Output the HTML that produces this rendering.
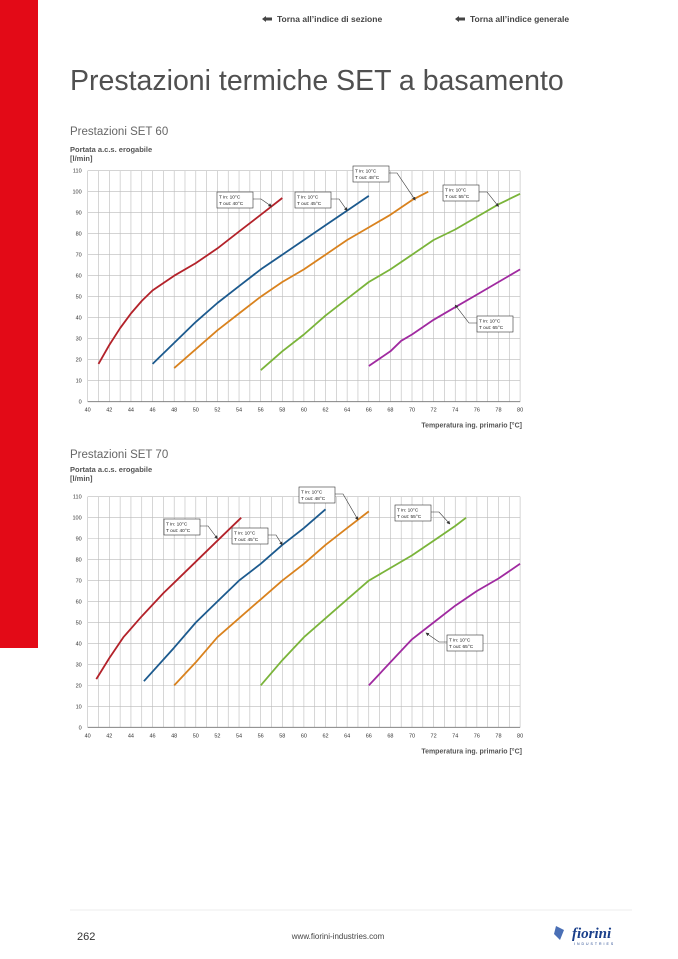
<!DOCTYPE html>
<html><head><meta charset="utf-8"><style>
html,body{margin:0;padding:0;background:#fff;}
body{width:678px;height:959px;position:relative;overflow:hidden;font-family:"Liberation Sans",sans-serif;}
</style></head><body>
<div style="position:absolute;left:0;top:0;width:38px;height:648px;background:#e30a17"></div>
<svg id="s" width="678" height="959" style="position:absolute;left:0;top:0" xmlns="http://www.w3.org/2000/svg" font-family="Liberation Sans, sans-serif">
<defs><marker id="ah" markerWidth="6" markerHeight="6" refX="5" refY="3" orient="auto"><path d="M0,0 L6,3 L0,6z" fill="#333"/></marker></defs>
<text x="277" y="22" font-size="8.5" font-weight="bold" fill="#444">Torna all’indice di sezione</text>
<text x="470" y="22" font-size="8.5" font-weight="bold" fill="#444">Torna all’indice generale</text>
<path d="M262,19 l4,-3 v1.5 h6 v3 h-6 v1.5z" fill="#444"/>
<path d="M455,19 l4,-3 v1.5 h6 v3 h-6 v1.5z" fill="#444"/>
<text x="70" y="90" font-size="28.5" fill="#505050">Prestazioni termiche SET a basamento</text>
<text x="70" y="135" font-size="11.5" fill="#666">Prestazioni SET 60</text>
<text x="70" y="458" font-size="11.5" fill="#666">Prestazioni SET 70</text>
<line x1="70" y1="910" x2="632" y2="910" stroke="#eee" stroke-width="1"/>
<text x="77" y="940" font-size="11" fill="#333">262</text>
<text x="338" y="939" font-size="8" fill="#444" text-anchor="middle">www.fiorini-industries.com</text>
<text x="572" y="938" font-size="15" font-weight="bold" font-style="italic" fill="#1a3f8a" font-family="Liberation Serif, serif">fiorini</text>
<text x="574" y="945" font-size="3.5" fill="#1a3f8a" letter-spacing="2">INDUSTRIES</text>
<path d="M556,926 l8,4 l-4,10 l-6,-6z" fill="#4a6fb5"/>
<g id="c"></g>
</svg>
<script>
var g=document.getElementById('c'),h='';
function X(t){return 87.7+(t-40)*10.81;}
function chart(y0,y110,top,curves,boxes){
 var Y=function(v){return y0-(y0-y110)*v/110;};
 h+='<text x="70" y="'+(top)+'" font-size="7.5" font-weight="bold" fill="#555">Portata a.c.s. erogabile</text>';
 h+='<text x="70" y="'+(top+9)+'" font-size="7.5" font-weight="bold" fill="#555">[l/min]</text>';
 for(var t=40;t<=80;t++){h+='<line x1="'+X(t)+'" y1="'+Y(110)+'" x2="'+X(t)+'" y2="'+Y(0)+'" stroke="#bbb" stroke-width="0.6"/>';}
 for(var v=0;v<=110;v+=10){h+='<line x1="'+X(40)+'" y1="'+Y(v)+'" x2="'+X(80)+'" y2="'+Y(v)+'" stroke="#bbb" stroke-width="0.6"/>';
  h+='<text x="'+(X(40)-6)+'" y="'+(Y(v)+2)+'" font-size="5.5" fill="#333" text-anchor="end">'+v+'</text>';}
 for(var t=40;t<=80;t+=2){h+='<text x="'+X(t)+'" y="'+(Y(0)+10)+'" font-size="5.5" fill="#333" text-anchor="middle">'+t+'</text>';}
 h+='<line x1="'+X(40)+'" y1="'+Y(0)+'" x2="'+X(80)+'" y2="'+Y(0)+'" stroke="#777" stroke-width="0.8"/>';
 h+='<text x="522" y="'+(Y(0)+26)+'" font-size="7" font-weight="bold" fill="#555" text-anchor="end">Temperatura ing. primario [°C]</text>';
 var cols=['#b3222a','#1c5a8e','#d9821e','#7ab43a','#a02aa0'];
 curves.forEach(function(c,i){var d=c.map(function(p,j){return (j?'L':'M')+X(p[0]).toFixed(1)+','+Y(p[1]).toFixed(1);}).join('');
  h+='<path d="'+d+'" fill="none" stroke="'+cols[i]+'" stroke-width="1.8" stroke-linejoin="round"/>';});
 boxes.forEach(function(b){var x=b[0],y=b[1],tx=X(b[2]),ty=Y(b[3]);
  var sx=b[4]?x:x+36, sy=y+7;
  h+='<polyline points="'+sx+','+sy+' '+(b[4]?sx-8:sx+8)+','+sy+' '+tx+','+ty+'" fill="none" stroke="#333" stroke-width="0.6" marker-end="url(#ah)"/>';
  h+='<rect x="'+x+'" y="'+y+'" width="36" height="16" fill="#fff" stroke="#333" stroke-width="0.6"/>';
  h+='<text x="'+(x+2)+'" y="'+(y+6.5)+'" font-size="4.8" fill="#222">T in: 10°C</text>';
  h+='<text x="'+(x+2)+'" y="'+(y+13)+'" font-size="4.8" fill="#222">'+b[5]+'</text>';});
}
chart(401.7,170.7,152,[
 [[41,18],[42,27],[43,35],[44,42],[45,48],[46,53],[48,60],[50,66],[52,73],[54,81],[56,89],[58,97]],
 [[46,18],[48,28],[50,38],[52,47],[54,55],[56,63],[58,70],[60,77],[62,84],[64,91],[66,98]],
 [[48,16],[50,25],[52,34],[54,42],[56,50],[58,57],[60,63],[62,70],[64,77],[66,83],[68,89],[70,96],[71.5,100]],
 [[56,15],[58,24],[60,32],[62,41],[64,49],[66,57],[68,63],[70,70],[72,77],[74,82],[76,88],[78,94],[80,99]],
 [[66,17],[68,24],[69,29],[70,32],[72,39],[74,45],[76,51],[78,57],[80,63]]
],[[217,192,57,93,0,'T out: 40°C'],[295,192,64,91,0,'T out: 45°C'],[353,166,70.3,96,0,'T out: 48°C'],[443,185,78,93,0,'T out: 55°C'],[477,316,74,46,1,'T out: 65°C']]);
chart(727.3,496.7,472,[
 [[40.8,23],[42,33],[43.3,43],[45,53],[47,64],[48,69],[50,79],[52,89],[54.2,100]],
 [[45.2,22],[48,38],[50,50],[52,60],[54,70],[56,78],[58,87],[60,95],[62,104]],
 [[48,20],[50,31],[52,43],[54,52],[56,61],[58,70],[60,78],[62,87],[64,95],[66,103]],
 [[56,20],[58,32],[60,43],[62,52],[64,61],[66,70],[68,76],[70,82],[72,89],[74,96],[75,100]],
 [[66,20],[68,31],[70,42],[72,50],[74,58],[76,65],[78,71],[80,78]]
],[[164,519,52,90,0,'T out: 40°C'],[232,528,58,87,0,'T out: 45°C'],[299,487,65,99,0,'T out: 48°C'],[395,505,73.5,97,0,'T out: 55°C'],[447,635,71.3,45,1,'T out: 65°C']]);
g.innerHTML=h;
</script>
</body></html>
